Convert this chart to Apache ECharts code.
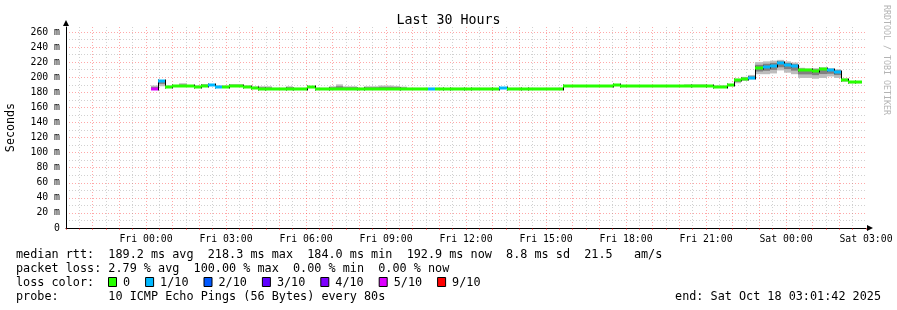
<!DOCTYPE html>
<html><head><meta charset="utf-8">
<script src="https://cdn.jsdelivr.net/npm/echarts@6/dist/echarts.min.js"></script>
<style>html,body{margin:0;padding:0;background:#fff}#c{width:897px;height:310px}</style>
</head><body><div id="c"></div>
<script>
// ---- data (hours relative to Fri 00:00) ----
const binStartHour = 0.1875;   // first 16-min bin starts Fri 00:11
const binMinutes = 16;
const median = [
185,195,187.5,188,188,188,187.5,188.5,189.5,187.5,
187.5,188,188,187.5,186,185,184.5,184.5,184.5,185,
184.5,184.5,186.5,184.5,184.5,185,185,185,185,184.5,
185,185,185,185,185,184.5,184.5,184.5,184.5,184.5,
184.5,184,184.5,184.5,184,184.5,184.5,184.5,184,185.5,
184.5,184.5,184,184.5,184.5,184.5,184.5,184.5,188,188,
188,188,188,188,188,189.5,188,188,188,188,
188,188,188,188,188,188,188.5,188.5,188,187.5,
187.5,189.5,196,198,199,212,214,215.5,218.3,216.5,
214.5,209.5,209.5,208.5,210.5,209,207.5,196.5,194,193
];
const lossLevel = [
5,1,0,0,0,0,0,0,1,1,
0,0,0,0,0,0,0,0,0,0,
0,0,0,0,0,0,0,0,0,0,
0,0,0,0,0,0,0,0,0,1,
0,0,0,0,0,0,0,0,0,1,
0,0,0,0,0,0,0,0,0,0,
0,0,0,0,0,0,0,0,0,0,
0,0,0,0,0,0,0,0,0,0,
0,0,0,0,1,0,1,1,1,1,
1,0,0,0,0,1,1,0,0,0
];
const smokeLow = [
184.5,188,186.5,187,187,187,186.5,187.5,188.5,186.5,
186.5,187,187,186.5,185,184,183.5,183.5,183.5,184,
183.5,183.5,185.5,183.5,183.5,184,184,184,184,183.5,
184,184,184,184,184,183.5,183.5,183.5,183.5,183.5,
183.5,183,183.5,183.5,183,183.5,183.5,183.5,183,184.5,
183.5,183.5,183,183.5,183.5,183.5,183.5,183.5,187,187,
187,187,187,187,187,188.5,187,187,187,187,
187,187,187,187,187,187,187.5,187.5,187,186.5,
186.5,188,192,195,197,204,204,205,209,206,
204,199,199,198,199,201,199,194,192,192
];
const smokeHigh = [
189,195.5,189,189.5,192,189.5,189,191,191,189,
189,191,191,189,187.5,188,188,186,186,188,
186,186,188,186,186,188,190.5,188,188,186,
188,188,189,189,188.5,187.5,186,186,186,186,
186,185.5,186,186,185.5,186,186,186,185.5,187,
186,186,185.5,186,186,186,186,186,189.5,189.5,
189.5,189.5,189.5,189.5,189.5,191,189.5,189.5,189.5,189.5,
189.5,189.5,189.5,189.5,189.5,190.5,190.5,190.5,189.5,189,
189,191,198,200.5,203,220,221,222,223,221,
219.5,212.5,211.5,212,213,212,210.5,198.5,195,194.5
];
const lossLevels = [0, 1, 2, 3, 4, 5, 9];
const lossLabels = ['0', '1/10', '2/10', '3/10', '4/10', '5/10', '9/10'];
const lossColors = ['#26ff00', '#00b8ff', '#0059ff', '#5e00ff', '#7e00ff', '#dd00ff', '#ff0000'];
const tickHours = [0, 3, 6, 9, 12, 15, 18, 21, 24, 27];
const tickLabels = ['Fri 00:00','Fri 03:00','Fri 06:00','Fri 09:00','Fri 12:00','Fri 15:00','Fri 18:00','Fri 21:00','Sat 00:00','Sat 03:00'];
const rttLine = 'median rtt:  189.2 ms avg  218.3 ms max  184.0 ms min  192.9 ms now  8.8 ms sd  21.5   am/s';
const lossLine = 'packet loss: 2.79 % avg  100.00 % max  0.00 % min  0.00 % now';
const probeLine = 'probe:       10 ICMP Echo Pings (56 Bytes) every 80s';
const endLine = 'end: Sat Oct 18 03:01:42 2025';

// ---- build ----
const MONO = '"DejaVu Sans Mono", monospace';
function lossColor(l) { const i = lossLevels.indexOf(l); return i >= 0 ? lossColors[i] : '#ff0000'; }
const data = median.map((m, i) => {
  const t0 = binStartHour + i * binMinutes / 60;
  const t1 = binStartHour + (i + 1) * binMinutes / 60;
  return [t0, t1, m, smokeLow[i], smokeHigh[i], lossLevel[i], i > 0 ? median[i - 1] : -1];
});

function renderItem(params, api) {
  const t0 = api.value(0), t1 = api.value(1);
  const med = api.value(2), lo = api.value(3), hi = api.value(4), loss = api.value(5), prev = api.value(6);
  const x0 = Math.round(api.coord([t0, med])[0]);
  const x1 = Math.round(api.coord([t1, med])[0]);
  const yMed = Math.round(api.coord([t0, med])[1]);
  const yLo = api.coord([t0, lo])[1], yHi = api.coord([t0, hi])[1];
  const yLo2 = api.coord([t0, med - (med - lo) * 0.55])[1];
  const yHi2 = api.coord([t0, med + (hi - med) * 0.55])[1];
  const ch = [
    {type: 'rect', shape: {x: x0, y: yHi, width: x1 - x0, height: yLo - yHi}, style: {fill: '#bdbdbd'}},
    {type: 'rect', shape: {x: x0, y: yHi2, width: x1 - x0, height: yLo2 - yHi2}, style: {fill: '#808080'}}
  ];
  if (prev > 0 && prev !== med) {
    const yPrev = Math.round(api.coord([t0, prev])[1]);
    ch.push({type: 'line', shape: {x1: x0 + 0.5, y1: Math.min(yPrev, yMed) - 1.5, x2: x0 + 0.5, y2: Math.max(yPrev, yMed) + 1.5}, style: {stroke: '#000', lineWidth: 1}});
  }
  ch.push({type: 'rect', shape: {x: x0, y: yMed - 1.5, width: x1 - x0, height: 3}, style: {fill: lossColor(loss)}});
  return {type: 'group', children: ch};
}

const graphics = [];
const lines = [[rttLine, 255], [lossLine, 269], ['loss color:', 283], [probeLine, 297]];
lines.forEach(([t, y]) => graphics.push({type: 'text', silent: true, style: {text: t, x: 16, y: y, font: '11.8px ' + MONO, fill: '#000', align: 'left', verticalAlign: 'middle', textAlign: 'left', textVerticalAlign: 'middle'}}));
graphics.push({type: 'text', silent: true, style: {text: endLine, x: 881, y: 297, font: '11.8px ' + MONO, fill: '#000', align: 'right', verticalAlign: 'middle', textAlign: 'right', textVerticalAlign: 'middle'}});
let lx = 108;
lossLabels.forEach((lab, i) => {
  graphics.push({type: 'rect', silent: true, shape: {x: lx + 0.5, y: 277.5, width: 8, height: 9}, style: {fill: lossColors[i], stroke: '#000', lineWidth: 1}});
  graphics.push({type: 'text', silent: true, style: {text: lab, x: lx + 15, y: 283, font: '11.8px ' + MONO, fill: '#000', align: 'left', verticalAlign: 'middle', textAlign: 'left', textVerticalAlign: 'middle'}});
  lx += 15 + lab.length * 7.1 + 15;
});
graphics.push({type: 'text', silent: true, x: 886, y: 5, rotation: -Math.PI / 2, style: {text: 'RRDTOOL / TOBI OETIKER', x: 0, y: 0, font: '8.3px ' + MONO, fill: '#b4b4b4', align: 'left', verticalAlign: 'middle', textAlign: 'left', textVerticalAlign: 'middle'}});

const chart = echarts.init(document.getElementById('c'), null, {renderer: 'canvas'});
chart.setOption({
  animation: false,
  backgroundColor: '#fff',
  title: {text: 'Last 30 Hours', left: 'center', top: 9, textStyle: {fontFamily: MONO, fontSize: 13.3, fontWeight: 'normal', color: '#000'}},
  grid: {left: 66, right: 31, top: 27, bottom: 82, containLabel: false, outerBoundsMode: 'none'},
  xAxis: {
    type: 'value', min: -3, max: 27, interval: 0.5,
    axisLine: {show: true, onZero: false, lineStyle: {color: '#000', width: 1}, symbol: ['none', 'triangle'], symbolSize: [6, 6], symbolOffset: [0, 4]},
    axisTick: {show: true, length: 2, lineStyle: {color: 'rgba(255,0,0,0.45)'}},
    axisLabel: {margin: 6, fontFamily: MONO, fontSize: 9.8, color: '#000',
      formatter: v => { const k = tickHours.findIndex(h => Math.abs(h - v) < 1e-6); return k >= 0 ? tickLabels[k] : ''; }},
    splitLine: {show: true, showMaxLine: false, lineStyle: {color: ['rgba(255,0,0,0.34)', 'rgba(140,140,140,0.4)'], type: [1, 2], width: 1}}
  },
  yAxis: {
    type: 'value', min: 0, max: 266.6, interval: 10,
    name: 'Seconds', nameLocation: 'middle', nameGap: 49, nameRotate: 90,
    nameTextStyle: {fontFamily: MONO, fontSize: 11.7, color: '#000'},
    axisLine: {show: true, onZero: false, lineStyle: {color: '#000', width: 1}, symbol: ['none', 'triangle'], symbolSize: [6, 6], symbolOffset: [0, 4]},
    axisTick: {show: false},
    axisLabel: {margin: 6, fontFamily: MONO, fontSize: 9.8, color: '#000',
      formatter: v => v === 0 ? '0' : (Math.abs(v % 20) < 1e-6 ? v + ' m' : '')},
    splitLine: {show: true, showMaxLine: false, lineStyle: {color: ['rgba(255,0,0,0.34)', 'rgba(140,140,140,0.4)'], type: [1, 2], width: 1}}
  },
  series: [{
    type: 'custom', renderItem: renderItem, data: data,
    encode: {x: [0, 1], y: [2]}, clip: true, silent: true
  }],
  graphic: graphics
});
</script></body></html>
